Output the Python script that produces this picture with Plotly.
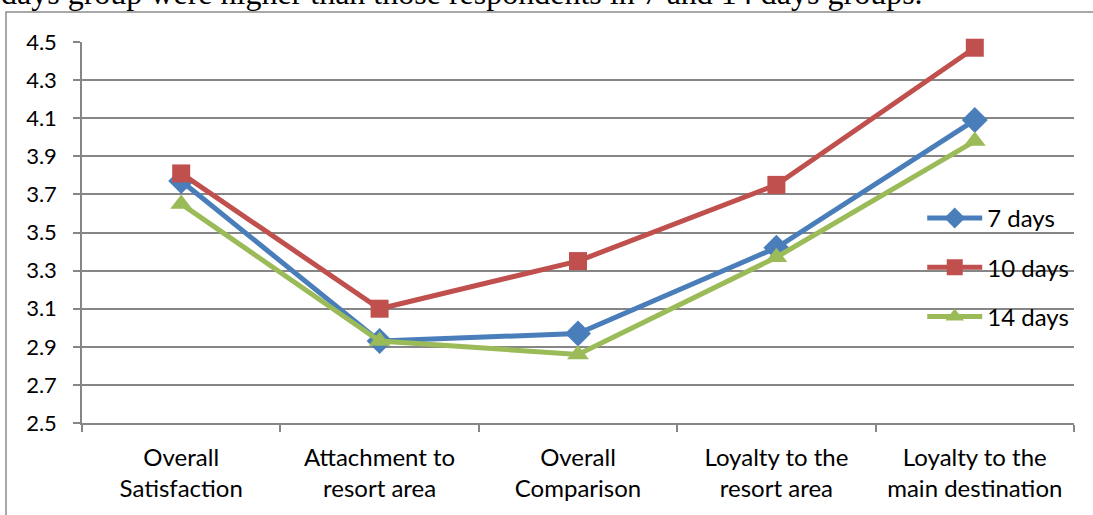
import plotly.graph_objects as go

categories = [
    "Overall<br>Satisfaction",
    "Attachment to<br>resort area",
    "Overall<br>Comparison",
    "Loyalty to the<br>resort area",
    "Loyalty to the<br>main destination",
]
days_7 = [3.77, 2.93, 2.97, 3.42, 4.09]
days_10 = [3.81, 3.10, 3.35, 3.75, 4.47]
days_14 = [3.65, 2.93, 2.86, 3.37, 3.98]
y_ticks = [2.5, 2.7, 2.9, 3.1, 3.3, 3.5, 3.7, 3.9, 4.1, 4.3, 4.5]

caption = "days group were higher than those respondents in 7 and 14 days groups."

series = [
    ("7 days", days_7, "#4A7EBB", "diamond", 20),
    ("10 days", days_10, "#C0504D", "square", 18),
    ("14 days", days_14, "#9BBB59", "triangle-up", 19),
]

fig = go.Figure()
for name, vals, color, symbol, size in series:
    fig.add_trace(go.Scatter(
        x=categories,
        y=vals,
        name=name,
        legendgroup=name,
        mode="lines+markers",
        line=dict(color=color, width=5),
        marker=dict(symbol=symbol, size=size, color=color),
        cliponaxis=False,
    ))

# chart frame (Excel style border), runs off the right and bottom edges
fig.add_shape(
    type="rect", xref="paper", yref="paper",
    x0=-0.0766, x1=1.05, y0=-0.35, y1=1.0787,
    line=dict(color="#8c8c8c", width=1.5),
)

# paragraph text cut off above the chart
fig.add_annotation(
    text=caption, xref="paper", yref="paper",
    x=-0.0835, y=1.076, xanchor="left", yanchor="bottom",
    showarrow=False,
    font=dict(family="Liberation Serif", size=32, color="black"),
)

fig.update_xaxes(
    type="category",
    range=[-0.5, 4.5],
    tickson="boundaries",
    ticks="outside", ticklen=7, tickcolor="#868686", tickwidth=1.5,
    ticklabelstandoff=12,
    showgrid=False,
    showline=True, linecolor="#868686", linewidth=1.5,
    tickfont=dict(family="Lato", size=24, color="black"),
)
fig.update_yaxes(
    range=[2.5, 4.5],
    tickvals=y_ticks,
    ticktext=[f"{v:.1f}" for v in y_ticks],
    ticks="outside", ticklen=7, tickcolor="#868686", tickwidth=1.5,
    ticklabelstandoff=12,
    showgrid=True, gridcolor="#868686", gridwidth=1.5,
    showline=True, linecolor="#868686", linewidth=1.5,
    zeroline=False,
    tickfont=dict(family="Lato", size=22, color="black"),
)

fig.update_layout(
    width=1093, height=515,
    margin=dict(l=82, r=19, t=42, b=92),
    plot_bgcolor="white", paper_bgcolor="white",
    showlegend=True,
    legend=dict(
        x=0.847, y=0.596, xanchor="left", yanchor="top",
        traceorder="grouped", tracegroupgap=15,
        itemwidth=55,
        bgcolor="rgba(0,0,0,0)",
        font=dict(family="Lato", size=24, color="black"),
    ),
)

fig.write_html(
    "out.html",
    config={"displayModeBar": False},
    post_script="document.body.style.margin='0';document.body.style.overflow='hidden';",
)
